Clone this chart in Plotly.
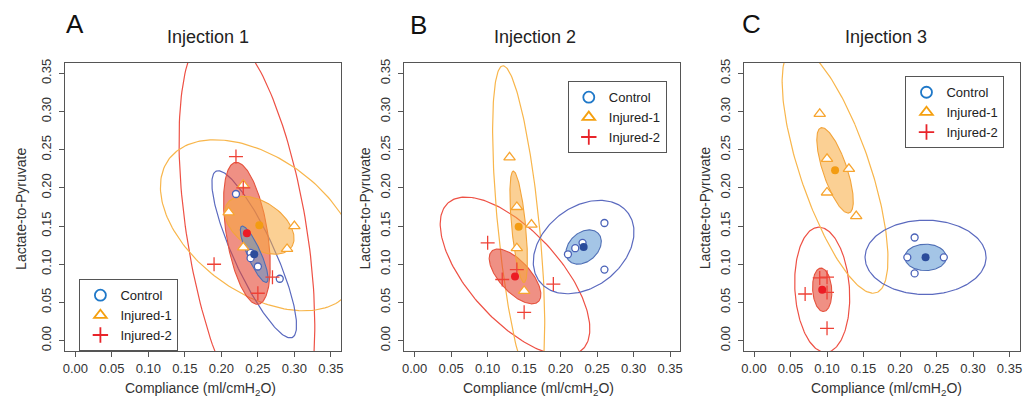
import numpy as np
import plotly.graph_objects as go

# ---------------- data ----------------
titles = ["Injection 1", "Injection 2", "Injection 3"]
letters = ["A", "B", "C"]
group_names = ["Control", "Injured-1", "Injured-2"]
tick_vals = [0.00, 0.05, 0.10, 0.15, 0.20, 0.25, 0.30, 0.35]
tick_text = ["0.00", "0.05", "0.10", "0.15", "0.20", "0.25", "0.30", "0.35"]

ctrl_x = [[0.22, 0.24, 0.24, 0.25, 0.28], [0.21, 0.22, 0.23, 0.26, 0.26], [0.21, 0.22, 0.22, 0.26]]
ctrl_y = [[0.192, 0.115, 0.108, 0.097, 0.081], [0.113, 0.121, 0.128, 0.154, 0.093], [0.109, 0.135, 0.088, 0.109]]
inj1_x = [[0.23, 0.21, 0.23, 0.29, 0.30], [0.13, 0.14, 0.16, 0.14, 0.15], [0.09, 0.10, 0.13, 0.10, 0.14]]
inj1_y = [[0.204, 0.168, 0.122, 0.120, 0.150], [0.240, 0.175, 0.152, 0.121, 0.065], [0.297, 0.238, 0.225, 0.194, 0.163]]
inj2_x = [[0.22, 0.23, 0.19, 0.27, 0.25], [0.10, 0.12, 0.14, 0.19, 0.15], [0.09, 0.10, 0.07, 0.10, 0.10]]
inj2_y = [[0.241, 0.200, 0.100, 0.083, 0.062], [0.128, 0.080, 0.093, 0.074, 0.037], [0.082, 0.083, 0.061, 0.063, 0.016]]

# group means
ctrl_mean_x = [0.245, 0.2315, 0.235]
ctrl_mean_y = [0.113, 0.1225, 0.109]
inj1_mean_x = [0.252, 0.1425, 0.111]
inj1_mean_y = [0.151, 0.149, 0.223]
inj2_mean_x = [0.235, 0.1375, 0.0934]
inj2_mean_y = [0.1405, 0.084, 0.0665]

# ellipse half-extents (x, y) and correlation
ctrl_inner_hx = [0.019, 0.0242, 0.0284]
ctrl_inner_hy = [0.037, 0.0225, 0.0173]
ctrl_outer_hx = [0.058, 0.069, 0.0829]
ctrl_outer_hy = [0.1095, 0.0612, 0.0487]
ctrl_r = [-0.85, 0.32, 0.0]
inj1_inner_hx = [0.0476, 0.012, 0.025]
inj1_inner_hy = [0.038, 0.073, 0.056]
inj1_outer_hx = [0.1355, 0.0357, 0.0725]
inj1_outer_hy = [0.112, 0.211, 0.161]
inj1_r = [-0.45, -0.6, -0.72]
inj2_inner_hx = [0.032, 0.0354, 0.0132]
inj2_inner_hy = [0.093, 0.0359, 0.0285]
inj2_outer_hx = [0.093, 0.1025, 0.0377]
inj2_outer_hy = [0.27, 0.104, 0.082]
inj2_r = [-0.45, -0.66, -0.12]

# ---------------- styles ----------------
FONT = "Liberation Sans, Arial, sans-serif"
W, H = 1031, 406
STY = {
    "Control": dict(pt="#4a62b8", mean="#2b4c9b", outer="#5b6abf",
                    fill="rgba(90,150,210,0.55)", edge="#4f6fb5",
                    sym="circle", size=7, leg="#1f78c8", legsym="circle-open"),
    "Injured-1": dict(pt="#f7a530", mean="#f39c12", outer="#f8b64c",
                      fill="rgba(248,170,60,0.55)", edge="#f3a43a",
                      sym="triangle-up", size=10, leg="#f5a00f", legsym="triangle-up-open"),
    "Injured-2": dict(pt="#ee4136", mean="#ec1c24", outer="#ee5145",
                      fill="rgba(228,70,50,0.6)", edge="#e5533f",
                      sym="cross-thin", size=10, leg="#e8242a", legsym="cross-thin-open"),
}

x_dom_px = [(63.4, 340.4), (404.0, 681.0), (744.7, 1021.7)]
y_dom_px = (59.3, 350.7)
letter_pos = [(73.5, 20), (418, 21), (752, 20)]
title_pos = [(207, 33), (535, 33), (887.5, 33)]
xt_pos = [(199, 389), (539, 389), (887.5, 389)]
yt_pos = [(19, 207), (364, 207), (706, 206)]
legend_pos = [(77.7, 278), (568, 78), (907, 73)]


def ellipse(cx, cy, hx, hy, r, n=200):
    t = np.linspace(0, 2 * np.pi, n)
    d = np.arccos(r)
    return cx + hx * np.cos(t + d / 2), cy + hy * np.cos(t - d / 2)


fig = go.Figure()

groups = {
    "Control": (ctrl_x, ctrl_y, ctrl_mean_x, ctrl_mean_y, ctrl_inner_hx, ctrl_inner_hy,
                ctrl_outer_hx, ctrl_outer_hy, ctrl_r),
    "Injured-1": (inj1_x, inj1_y, inj1_mean_x, inj1_mean_y, inj1_inner_hx, inj1_inner_hy,
                  inj1_outer_hx, inj1_outer_hy, inj1_r),
    "Injured-2": (inj2_x, inj2_y, inj2_mean_x, inj2_mean_y, inj2_inner_hx, inj2_inner_hy,
                  inj2_outer_hx, inj2_outer_hy, inj2_r),
}

for p in range(3):
    xa = "x" if p == 0 else f"x{p + 1}"
    ya = "y" if p == 0 else f"y{p + 1}"
    # outer ellipses
    for g in ["Injured-2", "Injured-1", "Control"]:
        gx, gy, mx, my, ihx, ihy, ohx, ohy, rr = groups[g]
        ex, ey = ellipse(mx[p], my[p], ohx[p], ohy[p], rr[p])
        fig.add_trace(go.Scatter(x=ex, y=ey, mode="lines", xaxis=xa, yaxis=ya,
                                 line=dict(color=STY[g]["outer"], width=1.2),
                                 showlegend=False, hoverinfo="skip"))
    # inner filled ellipses
    for g in ["Injured-2", "Injured-1", "Control"]:
        gx, gy, mx, my, ihx, ihy, ohx, ohy, rr = groups[g]
        ex, ey = ellipse(mx[p], my[p], ihx[p], ihy[p], rr[p])
        fig.add_trace(go.Scatter(x=ex, y=ey, mode="lines", xaxis=xa, yaxis=ya,
                                 fill="toself", fillcolor=STY[g]["fill"],
                                 line=dict(color=STY[g]["edge"], width=1.1),
                                 showlegend=False, hoverinfo="skip"))
    # points
    for g in ["Control", "Injured-1", "Injured-2"]:
        gx, gy, mx, my, ihx, ihy, ohx, ohy, rr = groups[g]
        s = STY[g]
        if g == "Injured-2":
            mk = dict(symbol="cross-thin", size=s["size"], color=s["pt"],
                      line=dict(color=s["pt"], width=1.3))
        else:
            mk = dict(symbol=s["sym"], size=s["size"], color="white",
                      line=dict(color=s["pt"], width=1.3))
        fig.add_trace(go.Scatter(x=gx[p], y=gy[p], mode="markers", xaxis=xa, yaxis=ya,
                                 marker=mk, showlegend=False, name=g))
    # means
    for g in ["Control", "Injured-1", "Injured-2"]:
        gx, gy, mx, my, ihx, ihy, ohx, ohy, rr = groups[g]
        fig.add_trace(go.Scatter(x=[mx[p]], y=[my[p]], mode="markers", xaxis=xa, yaxis=ya,
                                 marker=dict(symbol="circle", size=8, color=STY[g]["mean"]),
                                 showlegend=False, name=g + " mean"))
    # legend entries
    lg = "legend" if p == 0 else f"legend{p + 1}"
    for g in group_names:
        s = STY[g]
        fig.add_trace(go.Scatter(x=[None], y=[None], mode="markers", xaxis=xa, yaxis=ya,
                                 name=g, legend=lg, showlegend=True,
                                 marker=dict(symbol=s["legsym"], size=11, color=s["leg"],
                                             line=dict(color=s["leg"], width=1.8))))

axis_common = dict(range=[-0.014, 0.364], tickmode="array", tickvals=tick_vals,
                   ticktext=tick_text, ticks="outside", ticklen=5, tickwidth=1,
                   tickcolor="#555", showline=True, linecolor="#555", linewidth=1,
                   mirror=True, showgrid=False, zeroline=False,
                   tickfont=dict(family=FONT, size=13, color="#333"))

layout = dict(width=W, height=H, margin=dict(l=0, r=0, t=0, b=0),
              paper_bgcolor="white", plot_bgcolor="white", font=dict(family=FONT))
annotations = []
for p in range(3):
    sfx = "" if p == 0 else str(p + 1)
    x0, x1 = x_dom_px[p]
    layout["xaxis" + sfx] = dict(axis_common, domain=[x0 / W, x1 / W],
                                 anchor="y" + sfx)
    layout["yaxis" + sfx] = dict(axis_common, domain=[1 - y_dom_px[1] / H, 1 - y_dom_px[0] / H],
                                 anchor="x" + sfx, tickangle=-90, ticklabelstandoff=3)
    lx, ly = legend_pos[p]
    layout["legend" + sfx] = dict(x=lx / W, y=1 - ly / H, xanchor="left", yanchor="top",
                                  bgcolor="white", bordercolor="#555", borderwidth=1,
                                  font=dict(family=FONT, size=13, color="#222"),
                                  tracegroupgap=0, itemwidth=30)
    common = dict(xref="paper", yref="paper", showarrow=False,
                  xanchor="center", yanchor="middle")
    annotations.append(dict(common, text=letters[p], x=letter_pos[p][0] / W,
                            y=1 - letter_pos[p][1] / H,
                            font=dict(family=FONT, size=26, color="#111")))
    annotations.append(dict(common, text=titles[p], x=title_pos[p][0] / W,
                            y=1 - title_pos[p][1] / H,
                            font=dict(family=FONT, size=18, color="#222")))
    annotations.append(dict(common, text="Compliance (ml/cmH<sub>2</sub>O)",
                            x=xt_pos[p][0] / W, y=1 - xt_pos[p][1] / H,
                            font=dict(family=FONT, size=14, color="#333")))
    annotations.append(dict(common, text="Lactate-to-Pyruvate", x=yt_pos[p][0] / W,
                            y=1 - yt_pos[p][1] / H, textangle=-90,
                            font=dict(family=FONT, size=14, color="#333")))
layout["annotations"] = annotations

fig.update_layout(**layout)
fig.write_html("out.html")
